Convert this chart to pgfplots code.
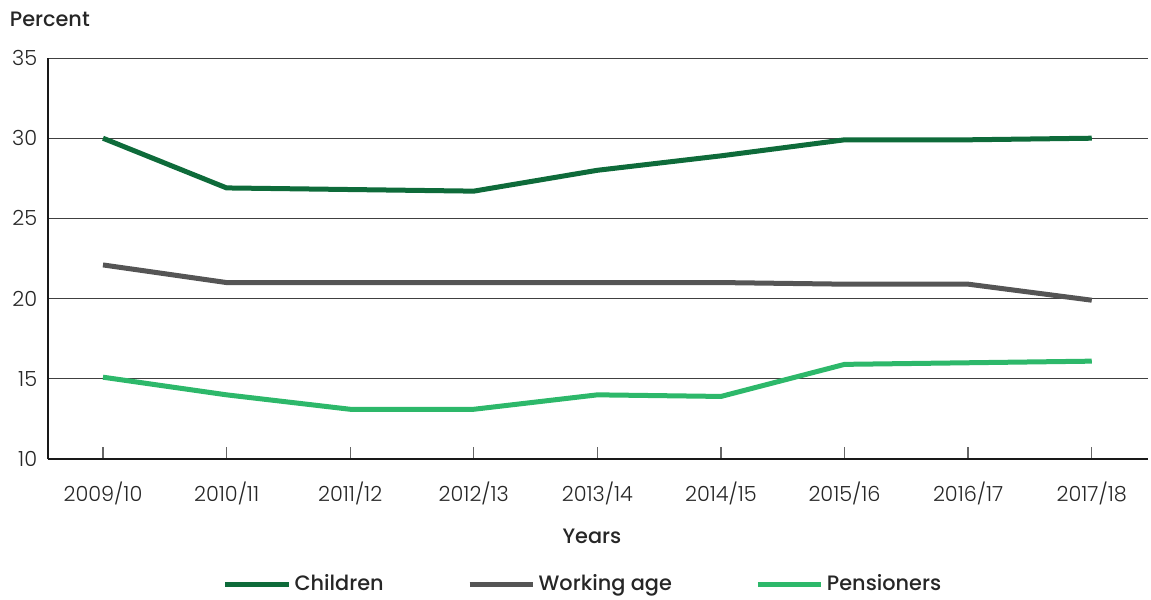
\documentclass[border=0pt]{standalone}
\usepackage{fontspec}
\setmainfont{Poppins}[UprightFont={* Light}, BoldFont={* Medium}]
\usepackage{pgfplots}
\pgfplotsset{compat=1.18}
\definecolor{cChild}{HTML}{0E6B3A}
\definecolor{cWork}{HTML}{555555}
\definecolor{cPens}{HTML}{2DB86A}
\pgfplotstableread{
x child work pens
0 30.0 22.1 15.1
1 26.9 21.0 14.0
2 26.8 21.0 13.1
3 26.7 21.0 13.1
4 28.0 21.0 14.0
5 28.9 21.0 13.9
6 29.9 20.9 15.9
7 29.9 20.9 16.0
8 30.0 19.9 16.1
}\datatable
\begin{document}
\begin{tikzpicture}
\useasboundingbox (0pt,0pt) rectangle (690.6pt,359.4pt);
\begin{axis}[
  at={(28.8pt,84pt)}, anchor=south west, scale only axis,
  width=660pt, height=240.6pt,
  xmin=-0.445, xmax=8.455, ymin=10, ymax=35,
  ytick={10,15,...,35}, xtick={0,...,8},
  xticklabels={2009/10,2010/11,2011/12,2012/13,2013/14,2014/15,2015/16,2016/17,2017/18},
  axis x line*=bottom, axis y line*=left,
  axis line style={-, line width=1.7pt, black!90},
  ymajorgrids, grid style={black!75, line width=0.6pt},
  tick align=inside, major tick length=7pt,
  xtick style={black!60, line width=0.8pt},
  ytick style={draw=none},
  tick label style={font=\fontsize{12.5}{14}\selectfont, text=black!85},
  /pgf/number format/assume math mode=true,
  xticklabel style={yshift=-10pt},
  yticklabel style={xshift=-3pt},
  xlabel={Years}, ylabel={Percent},
  label style={font=\bfseries\fontsize{12.5}{14}\selectfont, text=black!85},
  xlabel style={at={(axis description cs:0.4945,-0.192)}, anchor=center},
  ylabel style={rotate=-90, at={(axis description cs:-0.040,1.097)}, anchor=west},
  legend columns=3,
  legend style={draw=none, at={(axis description cs:0.487,-0.312)}, anchor=center,
    font=\bfseries\fontsize{12.5}{14}\selectfont, text=black!85,
    /tikz/every even column/.append style={column sep=48pt}},
  legend image code/.code={\draw[#1, line width=3pt] (0pt,0pt) -- (38pt,0pt);},
  every axis plot/.append style={line width=3pt},
]
\addplot[cChild, no markers] table[x=x, y=child] {\datatable};
\addlegendentry{Children}
\addplot[cWork, no markers] table[x=x, y=work] {\datatable};
\addlegendentry{Working age}
\addplot[cPens, no markers] table[x=x, y=pens] {\datatable};
\addlegendentry{Pensioners}
\end{axis}
\end{tikzpicture}
\end{document}
